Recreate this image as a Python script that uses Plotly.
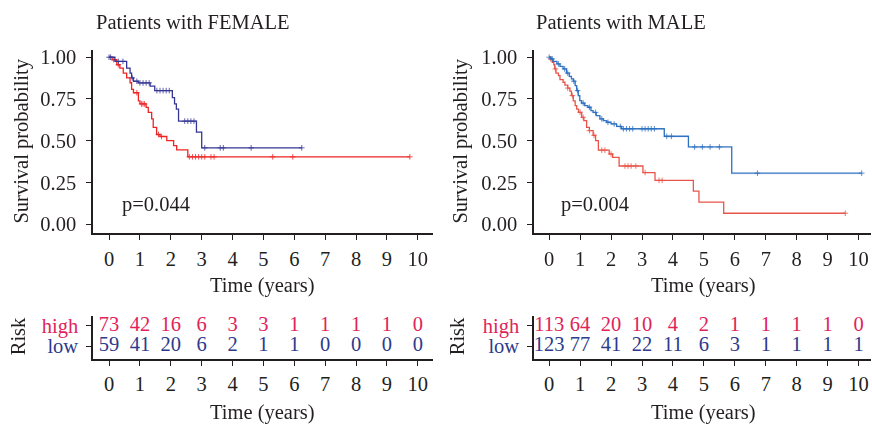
import plotly.graph_objects as go
import numpy as np

# ---------------- data ----------------
# FEMALE panel
f_high_t = [0, 0.1, 0.25, 0.35, 0.46, 0.57, 0.68, 0.73, 0.79, 0.95, 1.0, 1.2, 1.27, 1.38, 1.43, 1.54, 1.65, 1.87, 2.09, 2.19, 2.55, 9.74]
f_high_s = [1, 0.985, 0.955, 0.935, 0.905, 0.876, 0.847, 0.807, 0.787, 0.738, 0.72, 0.70, 0.669, 0.63, 0.58, 0.537, 0.525, 0.50, 0.47, 0.445, 0.403, 0.403]
f_high_c = [0.15, 0.3, 0.9, 1.05, 1.1, 1.15, 1.6, 1.7, 2.6, 2.7, 2.8, 2.9, 3.0, 3.1, 3.3, 3.4, 5.3, 5.95, 9.74]

f_low_t = [0, 0.19, 0.57, 0.68, 0.73, 0.79, 0.95, 1.33, 1.48, 2.05, 2.12, 2.18, 2.25, 2.83, 3.0, 6.24]
f_low_s = [1, 0.975, 0.935, 0.905, 0.876, 0.856, 0.846, 0.827, 0.80, 0.758, 0.72, 0.689, 0.617, 0.551, 0.457, 0.457]
f_low_c = [0.0, 0.05, 0.3, 0.45, 0.75, 0.9, 1.0, 1.1, 1.2, 1.3, 1.55, 1.65, 1.75, 1.85, 1.95, 2.45, 2.55, 2.65, 2.75, 3.1, 3.6, 3.7, 4.6, 6.24]

# MALE panel
m_high_t = [0, 0.05, 0.1, 0.15, 0.18, 0.22, 0.3, 0.35, 0.45, 0.51, 0.6, 0.67, 0.72, 0.78, 0.84, 0.89, 0.95, 1.05, 1.12, 1.21, 1.3, 1.42, 1.5, 1.59, 1.94, 2.05, 2.26, 3.03, 3.42, 4.66, 4.84, 5.64, 9.57]
m_high_s = [1, 0.99, 0.97, 0.955, 0.93, 0.905, 0.89, 0.866, 0.85, 0.833, 0.815, 0.797, 0.77, 0.738, 0.71, 0.689, 0.67, 0.64, 0.62, 0.58, 0.56, 0.532, 0.50, 0.443, 0.42, 0.40, 0.348, 0.309, 0.262, 0.197, 0.132, 0.065, 0.065]
m_high_c = [0.05, 0.2, 0.6, 0.75, 1.0, 1.1, 1.3, 1.45, 1.7, 1.8, 2.0, 2.45, 2.55, 2.65, 2.8, 3.1, 3.55, 3.65, 9.57]

m_low_t = [0, 0.05, 0.13, 0.25, 0.35, 0.45, 0.56, 0.65, 0.72, 0.78, 0.84, 0.89, 0.94, 0.99, 1.05, 1.15, 1.25, 1.35, 1.42, 1.52, 1.64, 1.75, 1.86, 2.0, 2.18, 2.34, 3.72, 4.5, 5.9, 10.1]
m_low_s = [1, 0.99, 0.975, 0.96, 0.945, 0.93, 0.905, 0.885, 0.87, 0.856, 0.83, 0.80, 0.77, 0.74, 0.725, 0.71, 0.70, 0.68, 0.669, 0.65, 0.63, 0.62, 0.61, 0.60, 0.585, 0.571, 0.526, 0.462, 0.305, 0.305]
m_low_c = [0.0, 0.1, 0.3, 0.5, 0.6, 0.8, 0.92, 1.1, 1.3, 1.5, 1.7, 1.9, 2.1, 2.3, 2.4, 2.5, 2.6, 2.7, 3.0, 3.1, 3.2, 3.3, 3.4, 3.8, 3.95, 4.7, 4.95, 5.2, 5.5, 6.73, 10.1]

risk_times = [0, 1, 2, 3, 4, 5, 6, 7, 8, 9, 10]
f_risk_high = [73, 42, 16, 6, 3, 3, 1, 1, 1, 1, 0]
f_risk_low = [59, 41, 20, 6, 2, 1, 1, 0, 0, 0, 0]
m_risk_high = [113, 64, 20, 10, 4, 2, 1, 1, 1, 1, 0]
m_risk_low = [123, 77, 41, 22, 11, 6, 3, 1, 1, 1, 1]

y_ticks = [0, 0.25, 0.5, 0.75, 1.0]
y_ticktext = ["0.00", "0.25", "0.50", "0.75", "1.00"]
x_ticks = [0, 1, 2, 3, 4, 5, 6, 7, 8, 9, 10]
titles = ["Patients with FEMALE", "Patients with MALE"]
pvals = ["p=0.044", "p=0.004"]

# ---------------- style ----------------
W, H = 872, 430
FONT = "Liberation Serif"
FS = 20.5
INK = "#231f20"
F_RED, F_BLUE = "#ee2424", "#363694"
M_RED, M_BLUE = "#e8544a", "#2a6fc0"
R_HIGH, R_LOW = "#e0245a", "#2e3a8c"


def px_x(p):
    return p / W


def px_y(p):
    return 1 - p / H


def surv_at(ts, ss, t):
    idx = np.searchsorted(np.array(ts), t, side="right") - 1
    return ss[max(idx, 0)]


fig = go.Figure()

panels = [
    dict(xa="x", ya="y", curves=[(f_high_t, f_high_s, f_high_c, F_RED), (f_low_t, f_low_s, f_low_c, F_BLUE)]),
    dict(xa="x2", ya="y2", curves=[(m_high_t, m_high_s, m_high_c, M_RED), (m_low_t, m_low_s, m_low_c, M_BLUE)]),
]
for pnl in panels:
    for ts, ss, cs, col in pnl["curves"]:
        fig.add_trace(go.Scatter(x=ts, y=ss, mode="lines", line=dict(color=col, width=1.3, shape="hv"),
                                 xaxis=pnl["xa"], yaxis=pnl["ya"], showlegend=False, hoverinfo="skip"))
        fig.add_trace(go.Scatter(x=cs, y=[surv_at(ts, ss, c) for c in cs], mode="markers",
                                 marker=dict(symbol="cross-thin", size=4, line=dict(color=col, width=1)),
                                 opacity=0.8,
                                 xaxis=pnl["xa"], yaxis=pnl["ya"], showlegend=False, hoverinfo="skip"))

for xa, ya, hi, lo in [("x3", "y3", f_risk_high, f_risk_low), ("x4", "y4", m_risk_high, m_risk_low)]:
    fig.add_trace(go.Scatter(x=risk_times, y=[2] * len(risk_times), mode="text", text=[str(v) for v in hi],
                             textfont=dict(family=FONT, size=FS, color=R_HIGH), xaxis=xa, yaxis=ya,
                             showlegend=False, hoverinfo="skip"))
    fig.add_trace(go.Scatter(x=risk_times, y=[1] * len(risk_times), mode="text", text=[str(v) for v in lo],
                             textfont=dict(family=FONT, size=FS, color=R_LOW), xaxis=xa, yaxis=ya,
                             showlegend=False, hoverinfo="skip"))

axis_common = dict(showline=True, linecolor=INK, linewidth=1.5, ticks="outside", ticklen=5, tickwidth=1.3,
                   tickcolor=INK, showgrid=False, zeroline=False,
                   tickfont=dict(family=FONT, size=FS, color=INK))

left_dom = [px_x(93), px_x(433)]
right_dom = [px_x(534), px_x(871)]
km_dom = [px_y(232), px_y(46.7)]
risk_dom = [px_y(360), px_y(316)]

risk_ticktext = [f'<span style="color:{R_HIGH}">high</span>', f'<span style="color:{R_LOW}">low</span>']

layout = dict(
    width=W, height=H, margin=dict(l=0, r=0, t=0, b=0),
    paper_bgcolor="white", plot_bgcolor="white", showlegend=False,
    xaxis=dict(domain=left_dom, range=[-0.52, 10.49], tickvals=x_ticks, anchor="y", ticklabelstandoff=2, **axis_common),
    yaxis=dict(domain=km_dom, range=[-0.052, 1.043], tickvals=y_ticks, ticktext=y_ticktext, anchor="x", ticklabelstandoff=6, **axis_common),
    xaxis2=dict(domain=right_dom, range=[-0.49, 10.4], tickvals=x_ticks, anchor="y2", ticklabelstandoff=2, **axis_common),
    yaxis2=dict(domain=km_dom, range=[-0.052, 1.043], tickvals=y_ticks, ticktext=y_ticktext, anchor="x2", ticklabelstandoff=6, **axis_common),
    xaxis3=dict(domain=left_dom, range=[-0.52, 10.49], tickvals=x_ticks, anchor="y3", ticklabelstandoff=1, **axis_common),
    yaxis3=dict(domain=risk_dom, range=[0.38, 2.48], tickvals=[2, 1], ticktext=risk_ticktext,
                anchor="x3", ticklabelstandoff=4, **axis_common),
    xaxis4=dict(domain=right_dom, range=[-0.49, 10.4], tickvals=x_ticks, anchor="y4", ticklabelstandoff=1, **axis_common),
    yaxis4=dict(domain=risk_dom, range=[0.38, 2.48], tickvals=[2, 1], ticktext=risk_ticktext,
                anchor="x4", ticklabelstandoff=4, **axis_common),
)
fig.update_layout(**layout)

ann = []
tf = dict(family=FONT, size=FS, color=INK)
for i, x0 in enumerate([94, 534]):
    ann.append(dict(text=titles[i], x=px_x(x0), y=px_y(18), xref="paper", yref="paper",
                    xanchor="left", yanchor="middle", showarrow=False, font=tf))
for xc in [22, 461]:
    ann.append(dict(text="Survival probability", x=px_x(xc), y=px_y(139.5), xref="paper", yref="paper",
                    textangle=-90, xanchor="center", yanchor="middle", showarrow=False, font=tf))
    ann.append(dict(text="Risk", x=px_x(xc - 4), y=px_y(337), xref="paper", yref="paper",
                    textangle=-90, xanchor="center", yanchor="middle", showarrow=False, font=tf))
for xc in [262.5, 703.5]:
    ann.append(dict(text="Time (years)", x=px_x(xc), y=px_y(285), xref="paper", yref="paper",
                    xanchor="center", yanchor="middle", showarrow=False, font=tf))
    ann.append(dict(text="Time (years)", x=px_x(xc), y=px_y(414), xref="paper", yref="paper",
                    xanchor="center", yanchor="middle", showarrow=False, font=tf))
for i, xl in enumerate([120, 559]):
    ann.append(dict(text=pvals[i], x=px_x(xl), y=px_y(203), xref="paper", yref="paper",
                    xanchor="left", yanchor="middle", showarrow=False, font=tf))
fig.update_layout(annotations=ann)

fig.write_html("out.html")
